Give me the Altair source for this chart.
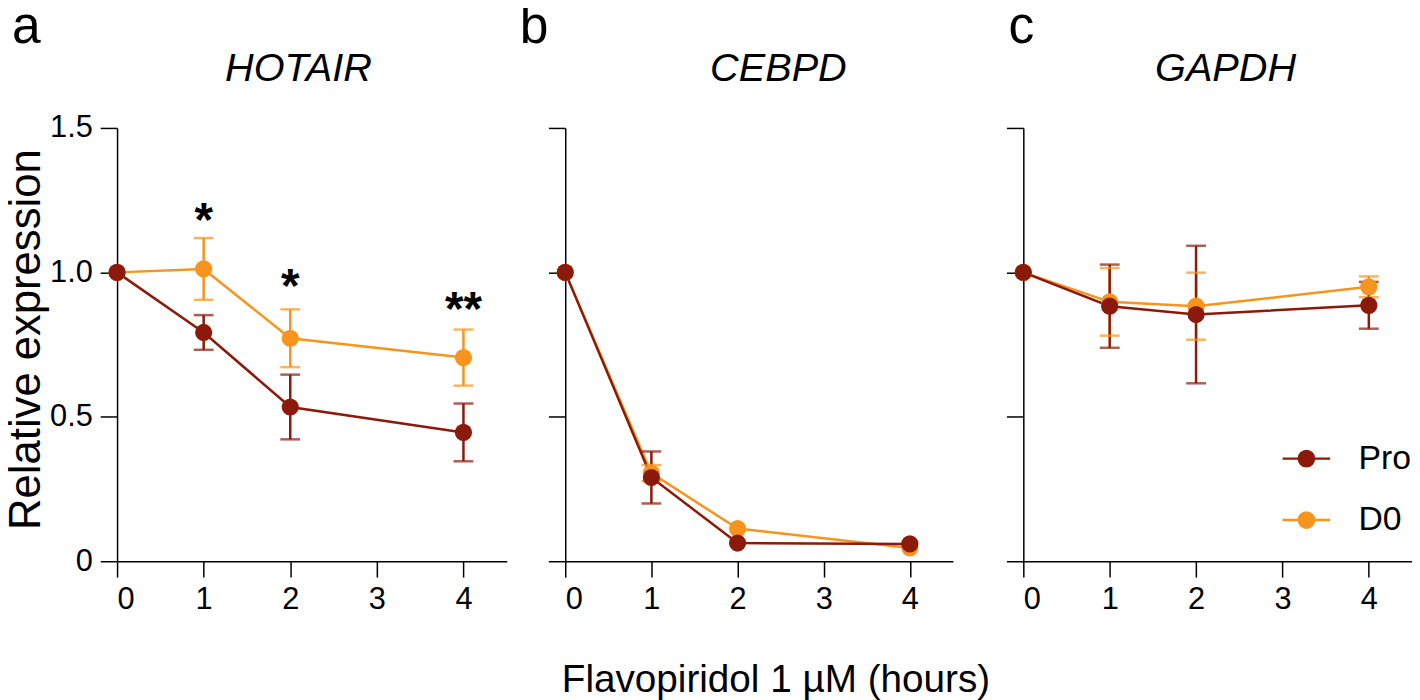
import altair as alt
import pandas as pd

# ---------------- data ----------------
times = [0, 1, 2, 4]
series_names = ["Pro", "D0"]
genes = ["HOTAIR", "CEBPD", "GAPDH"]
panel_letters = ["a", "b", "c"]

hotair_pro = [1.0, 0.792, 0.534, 0.446]
hotair_pro_err = [0.0, 0.060, 0.112, 0.100]
hotair_d0 = [1.0, 1.012, 0.772, 0.705]
hotair_d0_err = [0.0, 0.107, 0.100, 0.097]

cebpd_pro = [1.0, 0.290, 0.063, 0.060]
cebpd_pro_err = [0.0, 0.090, 0.0, 0.0]
cebpd_d0 = [1.0, 0.305, 0.113, 0.046]
cebpd_d0_err = [0.0, 0.028, 0.0, 0.0]

gapdh_pro = [1.0, 0.883, 0.854, 0.886]
gapdh_pro_err = [0.0, 0.144, 0.238, 0.081]
gapdh_d0 = [1.0, 0.898, 0.883, 0.950]
gapdh_d0_err = [0.0, 0.117, 0.116, 0.036]

star_times = [1, 2, 4]
star_values = [1.215, 0.985, 0.906]
star_labels = ["*", "*", "**"]

x_ticks = [0, 1, 2, 3, 4]
y_ticks = [0, 0.5, 1.0, 1.5]
x_title = "Flavopiridol 1 µM (hours)"
y_title = "Relative expression"

# ---------------- style ----------------
FONT = "Liberation Sans"
PRO_C = "#8B1A0A"
D0_C = "#F7941D"
H = 437
widths = [393, 391, 392]
color_scale = alt.Scale(domain=series_names, range=[PRO_C, D0_C])
# legend glyph: a horizontal line with a filled dot (dot built from rings)
_rings = [0.32, 0.25, 0.18, 0.11, 0.04]
legend_symbol = "M-1,0L1,0" + "".join(
    f"M{r},0A{r},{r},0,1,1,-{r},0A{r},{r},0,1,1,{r},0" for r in _rings)
letter_x = [-106, -46, -15]
gene_x = [183, 215, 204]


def make_df(pro, pro_err, d0, d0_err):
    rows = []
    for s, vals, errs in (("D0", d0, d0_err), ("Pro", pro, pro_err)):
        for t, v, e in zip(times, vals, errs):
            rows.append(dict(time=t, value=v, err=e, lo=v - e, hi=v + e,
                             series=s))
    return pd.DataFrame(rows)


def panel(idx, pro, pro_err, d0, d0_err, show_y_labels, legend):
    df = make_df(pro, pro_err, d0, d0_err)
    xs = alt.Scale(domain=[0, 4.5], nice=False)
    ys = alt.Scale(domain=[0, 1.5], nice=False)
    xaxis = alt.Axis(values=x_ticks, tickSize=16, title=None, format="d",
                     labelPadding=8)
    if show_y_labels:
        yaxis = alt.Axis(values=y_ticks, tickSize=17, labelPadding=8,
                         labelExpr="datum.value == 0 ? '0' : format(datum.value, '.1f')",
                         title=y_title, titleFont=FONT,
                         titleFontSize=44, titleFontWeight="normal",
                         titleColor="black", titleX=-78, titleY=213,
                         titleBaseline="alphabetic", titleAlign="center",
                         titleAngle=270)
    else:
        yaxis = alt.Axis(values=y_ticks, tickSize=17, labels=False,
                         title=None)

    base = alt.Chart(df)
    x = alt.X("time:Q", scale=xs, axis=xaxis)
    y = alt.Y("value:Q", scale=ys, axis=yaxis)
    col = alt.Color("series:N", scale=color_scale, legend=None)

    if legend:
        leg = alt.Legend(orient="none", legendX=260, legendY=308, title=None,
                         symbolType=legend_symbol, symbolSize=2304,
                         symbolStrokeWidth=2.5, labelFont=FONT,
                         labelFontSize=34, labelColor="black",
                         labelOffset=27, rowPadding=19)
        line_col = alt.Color("series:N", scale=color_scale, legend=leg)
    else:
        line_col = col

    line = base.mark_line(strokeWidth=2.5).encode(x=x, y=y, color=line_col)
    bars = base.transform_filter("datum.err > 0")
    rule = bars.mark_rule(strokeWidth=2.5).encode(
        x=x, y=alt.Y("lo:Q", scale=ys, axis=yaxis), y2="hi:Q", color=col)
    cap_hi = bars.mark_tick(orient="horizontal", size=20, thickness=2.5).encode(
        x=x, y=alt.Y("hi:Q", scale=ys, axis=yaxis), color=col)
    cap_lo = bars.mark_tick(orient="horizontal", size=20, thickness=2.5).encode(
        x=x, y=alt.Y("lo:Q", scale=ys, axis=yaxis), color=col)
    pts = base.mark_point(filled=True, size=300, opacity=1).encode(
        x=x, y=y, color=col)

    letter = alt.Chart(pd.DataFrame({"letter": [panel_letters[idx]]})).mark_text(
        font=FONT, fontSize=52, align="left", baseline="alphabetic",
        color="black").encode(
        text="letter:N", x=alt.value(letter_x[idx]), y=alt.value(-86))
    gene = alt.Chart(pd.DataFrame({"gene": [genes[idx]]})).mark_text(
        font=FONT, fontSize=40, fontStyle="italic", align="center",
        baseline="alphabetic", color="black").encode(
        text="gene:N", x=alt.value(gene_x[idx]), y=alt.value(-47))

    layers = [line, rule, cap_hi, cap_lo, pts, letter, gene]
    if idx == 0:
        sdf = pd.DataFrame({"time": star_times, "value": star_values,
                            "label": star_labels})
        stars = alt.Chart(sdf).mark_text(font=FONT, fontSize=48,
                                         fontWeight="bold", baseline="middle",
                                         dy=12, color="black").encode(
            x=x, y=y, text="label:N")
        layers.append(stars)

    return alt.layer(*layers).properties(width=widths[idx], height=H)


pa = panel(0, hotair_pro, hotair_pro_err, hotair_d0, hotair_d0_err, True, False)
pb = panel(1, cebpd_pro, cebpd_pro_err, cebpd_d0, cebpd_d0_err, False, False)
pc = panel(2, gapdh_pro, gapdh_pro_err, gapdh_d0, gapdh_d0_err, False, True)

inner = alt.hconcat(pa, pb, spacing=13).resolve_scale(color="independent")
chart = alt.hconcat(inner, pc, spacing=53).resolve_scale(
    color="independent"
).properties(
    padding={"top": -10, "left": -4, "right": 0, "bottom": 0},
    title=alt.TitleParams(x_title, orient="bottom", anchor="middle",
                          font=FONT, fontSize=39, fontWeight="normal",
                          color="black", baseline="top", offset=47, dx=68)
).configure_view(stroke=None).configure_axis(
    domainColor="black", domainWidth=1.5, tickColor="black", tickWidth=1.5,
    labelFont=FONT, labelFontSize=31, labelColor="black", grid=False
)

chart.save("out.html", embed_options={"renderer": "svg", "actions": False})
